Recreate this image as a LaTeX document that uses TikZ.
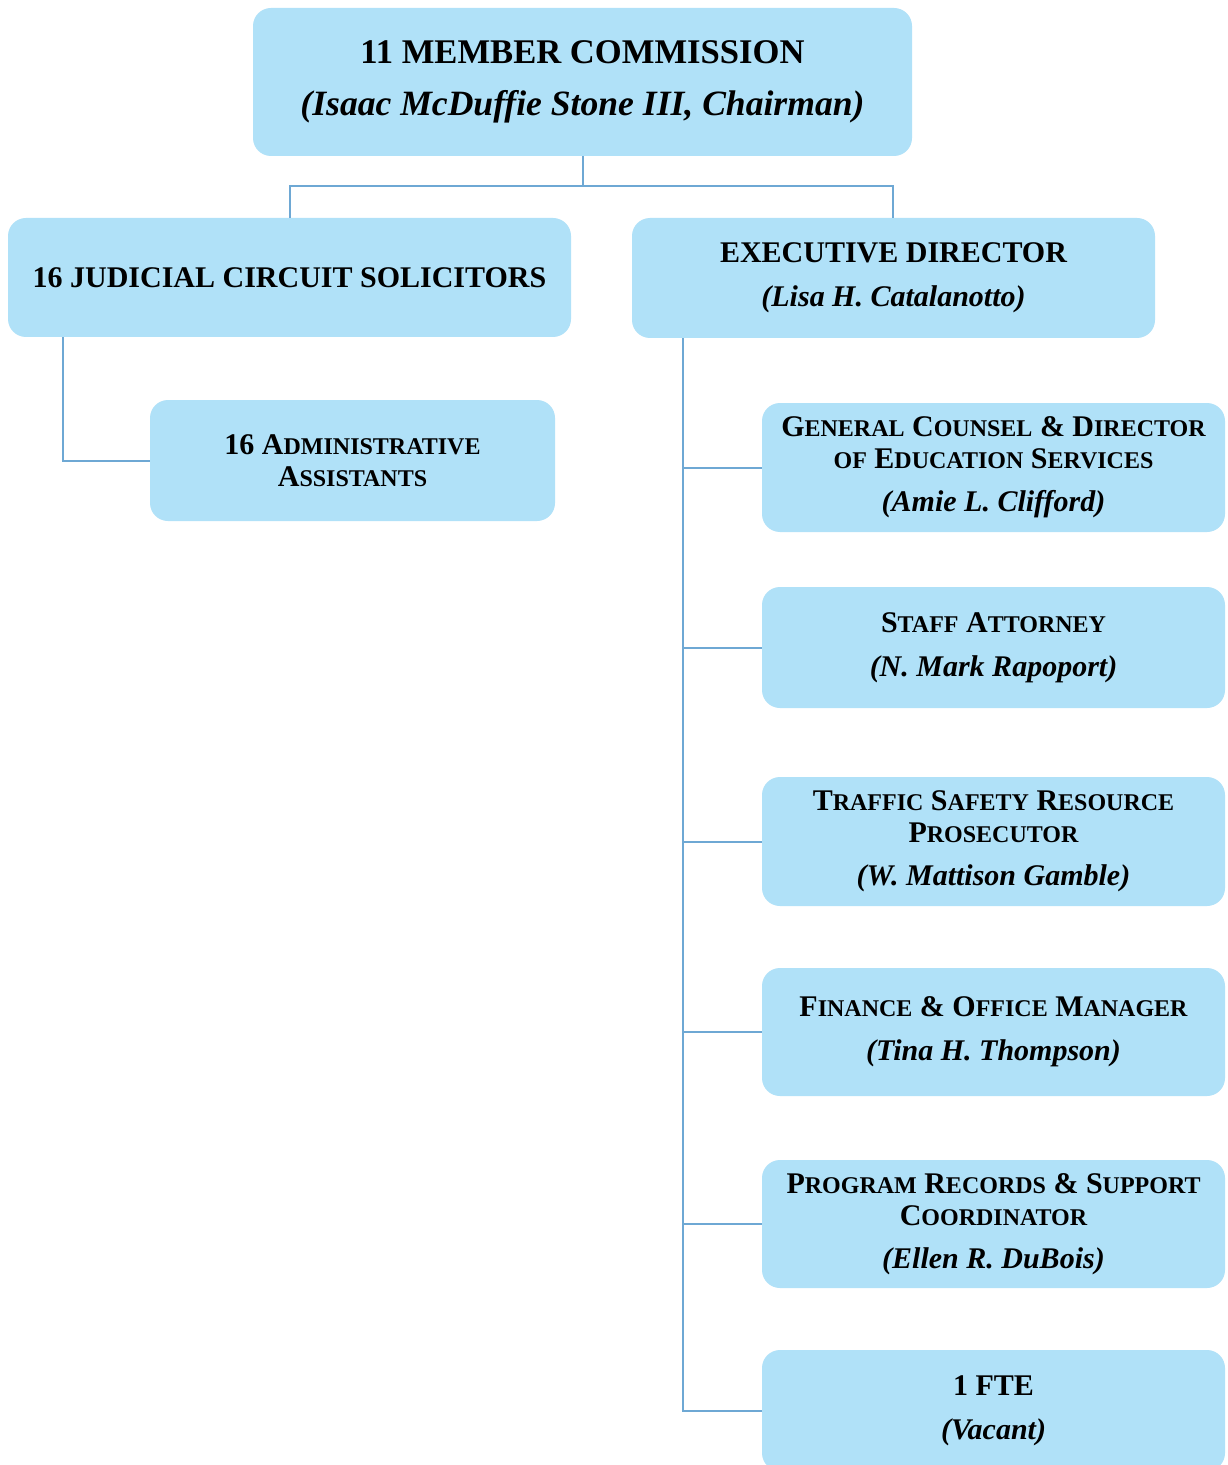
\documentclass[tikz,border=0pt]{standalone}
\usepackage{fontspec}
\setmainfont{Liberation Serif}
\usepackage{tikz}
\usetikzlibrary{positioning}

\definecolor{boxblue}{RGB}{176,225,248}
\definecolor{linkblue}{RGB}{110,168,212}

% fake small caps: first letter full size, rest smaller
\newcommand{\smc}[2]{#1{\fontsize{12}{16}\selectfont #2}}
\newcommand{\smw}[1]{{\fontsize{12}{16}\selectfont #1}}

\begin{document}
\begin{tikzpicture}[x=1pt,y=-1pt]
\tikzset{
  unit/.style={fill=boxblue, rounded corners=9pt, inner sep=0pt, align=center,
    font=\fontsize{15}{16}\selectfont\bfseries},
  staff/.style={unit, minimum width=231.5pt},
  link/.style={draw=linkblue, line width=1pt}
}
\clip (0,0) rectangle (613.5,732.5);
\fill[white] (0,0) rectangle (613.5,732.5);
% top level
\node[unit, minimum width=329.5pt, minimum height=74pt,
  font=\fontsize{17.3}{26}\selectfont\bfseries] (comm) at (291.25,41)
  {11 MEMBER COMMISSION\\ \fontsize{17.8}{26}\selectfont\itshape(Isaac McDuffie Stone III, Chairman)};
\node[unit, minimum width=281.5pt, minimum height=59.5pt] (solic) at (144.75,138.75)
  {16 JUDICIAL CIRCUIT SOLICITORS};
\node[unit, minimum width=261.5pt, minimum height=60pt,
  font=\fontsize{15}{22}\selectfont\bfseries] (exec) at (446.75,139)
  {EXECUTIVE DIRECTOR\\ \itshape(Lisa H. Catalanotto)};
\node[unit, minimum width=202.5pt, minimum height=60.5pt] (admin) at (176.25,230.25)
  {16 \smc{A}{DMINISTRATIVE}\\ \smc{A}{SSISTANTS}};
% staff under the director
\node[staff, minimum height=64.5pt] (counsel) at (496.75,233.75)
  {\smc{G}{ENERAL} \smc{C}{OUNSEL} \& \smc{D}{IRECTOR}\\ \smw{OF} \smc{E}{DUCATION} \smc{S}{ERVICES}\\[5.5pt]
   \itshape(Amie L. Clifford)};
\node[staff, minimum height=60.5pt] (attorney) at (496.75,323.75)
  {\smc{S}{TAFF} \smc{A}{TTORNEY}\\[6pt] \itshape(N. Mark Rapoport)};
\node[staff, minimum height=64.5pt] (traffic) at (496.75,420.75)
  {\smc{T}{RAFFIC} \smc{S}{AFETY} \smc{R}{ESOURCE}\\ \smc{P}{ROSECUTOR}\\[5.5pt]
   \itshape(W. Mattison Gamble)};
\node[staff, minimum height=64pt] (finance) at (496.75,516)
  {\smc{F}{INANCE} \& \smc{O}{FFICE} \smc{M}{ANAGER}\\[6pt] \itshape(Tina H. Thompson)};
\node[staff, minimum height=64pt] (records) at (496.75,612)
  {\smc{P}{ROGRAM} \smc{R}{ECORDS} \& \smc{S}{UPPORT}\\ \smc{C}{OORDINATOR}\\[5.5pt]
   \itshape(Ellen R. DuBois)};
\node[staff, minimum height=60.5pt] (fte) at (496.75,705.25)
  {1 FTE\\[6pt] \itshape(Vacant)};
% connectors
\coordinate (split) at (291.25,93);
\coordinate (spine) at ([xshift=-105.25pt]exec.south);
\draw[link] (comm.south) -- (split);
\draw[link] ([xshift=0.25pt]solic.north) |- (split) -| ([xshift=-0.25pt]exec.north);
\draw[link] ([xshift=-113.25pt]solic.south) |- (admin.west);
\foreach \n in {counsel,attorney,traffic,finance,records,fte}
  \draw[link] (spine) |- (\n.west);
\end{tikzpicture}
\end{document}
